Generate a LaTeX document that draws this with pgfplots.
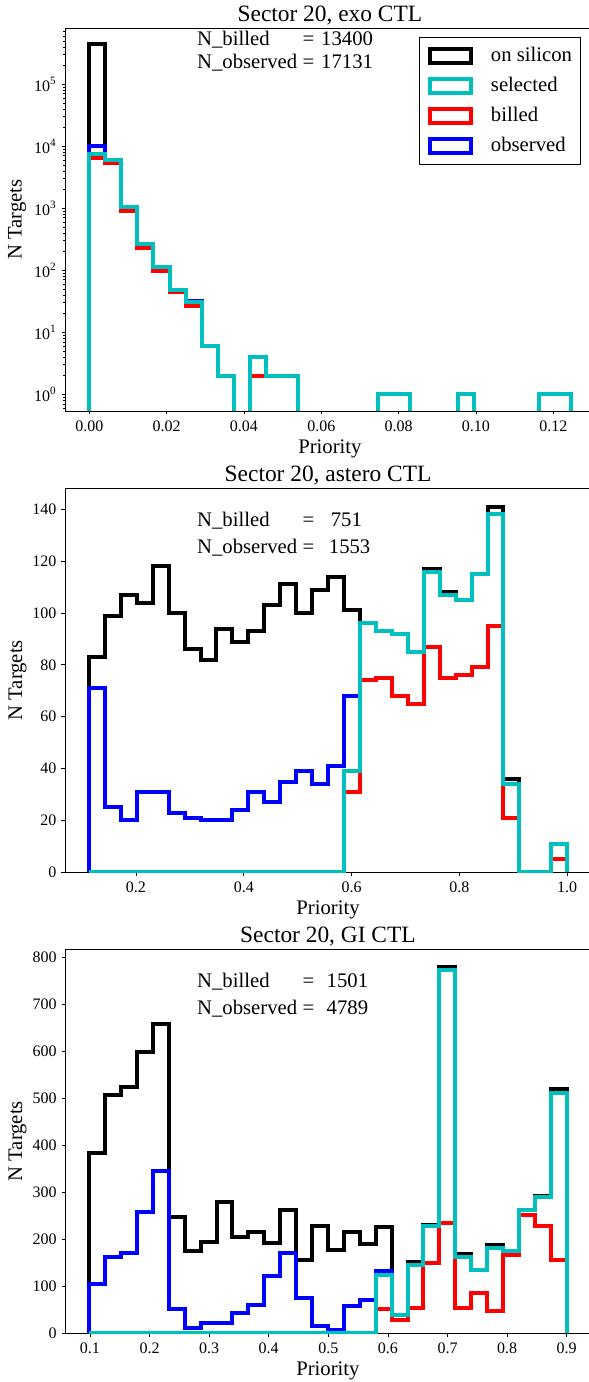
\documentclass[border=0pt]{standalone}
\usepackage{fontspec}
\setmainfont{Liberation Serif}
\usepackage{pgfplots}
\usepackage{pgfplotstable}
\pgfplotsset{compat=1.18}
\definecolor{mplcyan}{rgb}{0,0.75,0.75}

% step outlines: (left edge, value) rows; zeros shown as 0.01 on the log panel
\pgfplotstableread{
x on sel bil obs
0 0.01 0.01 0.01 0.01
0 450000 7400 6500 10000
0.00415 6100 5900 5300 6050
0.0083 1040 1040 900 1040
0.01245 265 265 232 265
0.0166 114 114 97 114
0.02075 49 49 44 49
0.0249 32 31 27 32
0.02905 6 6 6 6
0.0332 2 2 2 2
0.03735 0.01 0.01 0.01 0.01
0.0415 4 4 2 4
0.04565 2 2 2 2
0.0498 2 2 2 2
0.05395 0.01 0.01 0.01 0.01
0.0581 0.01 0.01 0.01 0.01
0.06225 0.01 0.01 0.01 0.01
0.0664 0.01 0.01 0.01 0.01
0.07055 0.01 0.01 0.01 0.01
0.0747 1 1 1 1
0.07885 1 1 1 1
0.083 0.01 0.01 0.01 0.01
0.08715 0.01 0.01 0.01 0.01
0.0913 0.01 0.01 0.01 0.01
0.09545 1 1 1 1
0.0996 0.01 0.01 0.01 0.01
0.10375 0.01 0.01 0.01 0.01
0.1079 0.01 0.01 0.01 0.01
0.11205 0.01 0.01 0.01 0.01
0.1162 1 1 1 1
0.12035 1 1 1 1
0.1245 1 1 1 1
0.1245 0.01 0.01 0.01 0.01
}\exotab

\pgfplotstableread{
x on sel bil obs
0.1127 0 0 0 0
0.1127 83 0 0 71
0.14228 99 0 0 25
0.17186 107 0 0 20
0.20144 104 0 0 31
0.23102 118 0 0 31
0.2606 100 0 0 23
0.29018 86 0 0 21
0.31976 82 0 0 20
0.34934 94 0 0 20
0.37892 89 0 0 24
0.4085 93 0 0 31
0.43808 103 0 0 27
0.46766 111 0 0 35
0.49724 100 0 0 39
0.52682 109 0 0 34
0.5564 114 0 0 41
0.58598 101 39 31 68
0.61556 96 96 74 96
0.64514 93 93 75 93
0.67472 92 92 68 92
0.7043 85 85 65 85
0.73388 117 116 87 116
0.76346 108 107 75 107
0.79304 105 105 76 105
0.82262 115 115 79 115
0.8522 141 138 95 138
0.88178 36 34 21 34
0.91136 0 0 0 0
0.94094 0 0 0 0
0.97052 11 11 5 11
1.0 11 11 5 11
1.0 0 0 0 0
}\asterotab

\pgfplotstableread{
x on sel bil obs
0.0987 0 0 0 0
0.0987 383 0 0 105
0.12541 508 0 0 162
0.15212 525 0 0 171
0.17883 598 0 0 259
0.20554 657 0 0 345
0.23225 247 0 0 52
0.25896 175 0 0 11
0.28567 195 0 0 21
0.31238 279 0 0 21
0.33909 204 0 0 44
0.3658 215 0 0 60
0.39251 193 0 0 121
0.41922 263 0 0 171
0.44593 155 0 0 75
0.47264 229 0 0 16
0.49935 178 0 0 7
0.52606 216 0 0 58
0.55277 191 0 0 70
0.57948 227 124 51 132
0.60619 39 39 28 39
0.6329 152 145 54 145
0.65961 230 228 149 228
0.68632 779 774 235 774
0.71303 169 163 53 163
0.73974 135 135 85 135
0.76645 188 182 48 182
0.79316 176 176 167 176
0.81987 262 262 252 262
0.84658 292 290 228 290
0.87329 519 512 156 512
0.9 519 512 156 512
0.9 0 0 0 0
}\gitab

\pgfplotsset{
  panel/.style={
    scale only axis, anchor=south west,
    axis line style={line width=0.8pt},
    tick align=outside, tick pos=left,
    major tick length=3.5pt, minor tick length=2pt,
    every tick/.append style={line width=0.8pt, black},
    scaled ticks=false,
    /pgf/number format/assume math mode=true,
    tick label style={font=\fontsize{16}{18}\selectfont},
    xticklabel style={inner sep=0pt, anchor=north, yshift=-6pt},
    yticklabel style={inner sep=0pt, anchor=east, xshift=-5pt},
    xlabel={Priority}, ylabel={N Targets},
    label style={font=\fontsize{20.7}{24}\selectfont},
    xlabel style={at={(axis description cs:0.5,0)}, anchor=base, yshift=-42.5pt},
    title style={font=\fontsize{23.4}{27}\selectfont, at={(axis description cs:0.5,1)}, anchor=base, yshift=1pt},
    clip=true,
  },
  hist/.style={const plot, mark=none, line width=4pt, line join=miter, forget plot},
  legsq/.style={legend image code/.code={\draw[line width=4pt, line join=miter] (0pt,-7pt) rectangle (41.6pt,7pt);}},
}

\begin{document}
\begin{tikzpicture}[x=1pt,y=1pt]
\useasboundingbox (0,0) rectangle (589,1382);
\clip (0,0) rectangle (589,1382);

% ---------- panel 1 ----------
\begin{axis}[panel, at={(65pt,971pt)}, width=529.8pt, height=382.7pt,
  ymode=log, log basis y=10,
  xmin=-0.00628, xmax=0.13073, ymin=0.538, ymax=8.0e5,
  title={Sector 20, exo CTL},
  ylabel style={at={(axis description cs:-0.082,0.5)}, anchor=base},
  xtick={0,0.02,0.04,0.06,0.08,0.1,0.12},
  xticklabel style={/pgf/number format/.cd, fixed, fixed zerofill, precision=2},
  ytick={1,10,100,1000,10000,100000},
  yticklabels={10\textsuperscript{0},10\textsuperscript{1},10\textsuperscript{2},10\textsuperscript{3},10\textsuperscript{4},10\textsuperscript{5}},
  minor ytick={0.6,0.7,0.8,0.9,2,3,4,5,6,7,8,9,20,30,40,50,60,70,80,90,200,300,400,500,600,700,800,900,2000,3000,4000,5000,6000,7000,8000,9000,20000,30000,40000,50000,60000,70000,80000,90000,200000,300000,400000,500000,600000,700000},
  legend style={at={(axis description cs:0.974,0.9765)}, anchor=north east,
    draw=black, line width=0.8pt, fill=white,
    inner xsep=8.6pt, inner ysep=9pt, row sep=11.5pt, column sep=17.5pt,
    nodes={inner sep=0pt, text height=14.5pt, text depth=4pt},
    font=\fontsize{20.7}{24}\selectfont},
  legend cell align=left,
]
\addlegendimage{black, legsq}\addlegendentry{on silicon}
\addlegendimage{mplcyan, legsq}\addlegendentry{selected}
\addlegendimage{red, legsq}\addlegendentry{billed}
\addlegendimage{blue, legsq}\addlegendentry{observed}
\addplot[hist, black] table[x=x, y=on] {\exotab};
\addplot[hist, red] table[x=x, y=bil] {\exotab};
\addplot[hist, blue] table[x=x, y=obs] {\exotab};
\addplot[hist, mplcyan] table[x=x, y=sel] {\exotab};
\end{axis}

% ---------- panel 2 ----------
\begin{axis}[panel, at={(65pt,509.7pt)}, width=526.1pt, height=384pt,
  xmin=0.0683, xmax=1.0444, ymin=0, ymax=148.1,
  title={Sector 20, astero CTL},
  ylabel style={at={(axis description cs:-0.0817,0.5)}, anchor=base},
  xtick={0.2,0.4,0.6,0.8,1.0},
  xticklabel style={/pgf/number format/.cd, fixed, fixed zerofill, precision=1},
  ytick={0,20,40,60,80,100,120,140},
]
\addplot[hist, black] table[x=x, y=on] {\asterotab};
\addplot[hist, red] table[x=x, y=bil] {\asterotab};
\addplot[hist, blue] table[x=x, y=obs] {\asterotab};
\addplot[hist, mplcyan] table[x=x, y=sel] {\asterotab};
\end{axis}

% ---------- panel 3 ----------
\begin{axis}[panel, at={(65.3pt,48.7pt)}, width=525.3pt, height=384pt,
  xmin=0.0586, xmax=0.9401, ymin=0, ymax=817,
  title={Sector 20, GI CTL},
  ylabel style={at={(axis description cs:-0.0823,0.5)}, anchor=base},
  xtick={0.1,0.2,0.3,0.4,0.5,0.6,0.7,0.8,0.9},
  xticklabel style={/pgf/number format/.cd, fixed, fixed zerofill, precision=1},
  ytick={0,100,200,300,400,500,600,700,800},
]
\addplot[hist, black] table[x=x, y=on] {\gitab};
\addplot[hist, red] table[x=x, y=bil] {\gitab};
\addplot[hist, blue] table[x=x, y=obs] {\gitab};
\addplot[hist, mplcyan] table[x=x, y=sel] {\gitab};
\end{axis}

% ---------- annotations ----------
\begin{scope}[every node/.style={anchor=base west, inner sep=0pt, font=\fontsize{20.7}{24}\selectfont}]
\node at (197pt,1336pt) {N\_billed};
\node at (302.4pt,1336pt) {=};
\node at (321pt,1336pt) {13400};
\node at (197pt,1313pt) {N\_observed};
\node at (302.4pt,1313pt) {=};
\node at (321pt,1313pt) {17131};

\node at (197pt,855.3pt) {N\_billed};
\node at (302.4pt,855.3pt) {=};
\node at (330.6pt,855.3pt) {751};
\node at (197pt,828.7pt) {N\_observed};
\node at (302.4pt,828.7pt) {=};
\node at (328.7pt,828.7pt) {1553};

\node at (197pt,394pt) {N\_billed};
\node at (302.4pt,394pt) {=};
\node at (326.5pt,394pt) {1501};
\node at (197pt,367pt) {N\_observed};
\node at (302.4pt,367pt) {=};
\node at (326.5pt,367pt) {4789};
\end{scope}
\end{tikzpicture}
\end{document}
